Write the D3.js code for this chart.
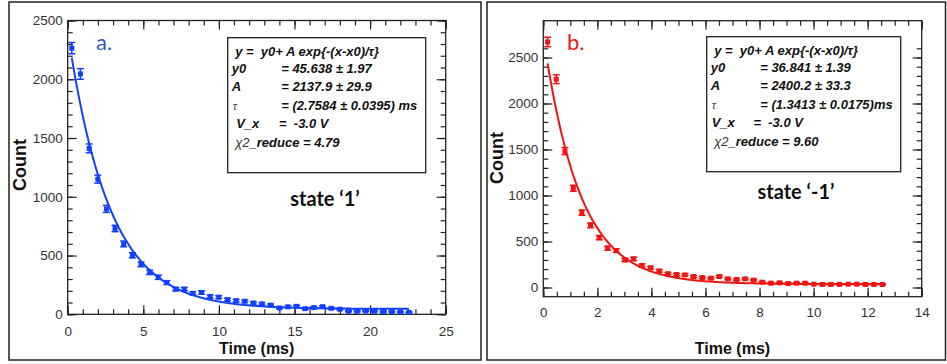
<!DOCTYPE html>
<html>
<head>
<meta charset="utf-8">
<script src="https://cdn.jsdelivr.net/npm/d3@7"></script>
<style>
  html, body { margin: 0; padding: 0; background: #fff; }
  svg { display: block; }
  text { white-space: pre; }
</style>
</head>
<body>
<svg id="chart" width="947" height="364"></svg>
<script>
// ---- state '1' decay (panel a) ----
const timeA = [0.27, 0.84, 1.42, 1.99, 2.56, 3.13, 3.70, 4.28, 4.85, 5.42,
               5.99, 6.56, 7.14, 7.71, 8.28, 8.85, 9.42, 9.99, 10.57, 11.14,
               11.71, 12.28, 12.85, 13.42, 14.00, 14.57, 15.14, 15.71, 16.28, 16.85,
               17.43, 18.00, 18.57, 19.14, 19.71, 20.28, 20.86, 21.43, 22.00, 22.57];
const countA = [2265, 2045, 1412, 1150, 897, 730, 599, 502, 425, 357,
                315, 270, 214, 214, 178, 186, 152, 146, 125, 116,
                111, 96, 89, 78, 54, 64, 68, 48, 57, 65,
                51, 43, 26, 26, 28, 26, 23, 23, 20, 17];
const fitA = { y0: 45.638, A: 2137.9, tau: 2.7584 };
const xTicksA = [0, 5, 10, 15, 20, 25];
const yTicksA = [0, 500, 1000, 1500, 2000, 2500];
const fitTextA = ["45.638 \u00b1 1.97", "2137.9 \u00b1 29.9", "(2.7584 \u00b1 0.0395) ms", "-3.0 V", "4.79"];

// ---- state '-1' decay (panel b) ----
const timeB = [0.16, 0.48, 0.80, 1.11, 1.43, 1.75, 2.07, 2.38, 2.70, 3.02,
               3.34, 3.65, 3.97, 4.29, 4.61, 4.93, 5.24, 5.56, 5.88, 6.20,
               6.51, 6.83, 7.15, 7.47, 7.78, 8.10, 8.42, 8.74, 9.06, 9.37,
               9.69, 10.01, 10.33, 10.64, 10.96, 11.28, 11.60, 11.92, 12.23, 12.55];
const countB = [2669, 2264, 1483, 1078, 814, 676, 542, 427, 401, 300,
                311, 239, 214, 180, 150, 141, 137, 119, 108, 101,
                119, 94, 87, 94, 80, 58, 47, 51, 43, 47,
                47, 36, 33, 33, 33, 36, 36, 33, 33, 33];
const fitB = { y0: 36.841, A: 2400.2, tau: 1.3413 };
const xTicksB = [0, 2, 4, 6, 8, 10, 12, 14];
const yTicksB = [0, 500, 1000, 1500, 2000, 2500];
const fitTextB = ["36.841 \u00b1 1.39", "2400.2 \u00b1 33.3", "(1.3413 \u00b1 0.0175)ms", "-3.0 V", "9.60"];

const svg = d3.select("#chart");

// Panel frames
svg.append("rect").attr("x", 9).attr("y", 2).attr("width", 472).attr("height", 358)
  .attr("fill", "none").attr("stroke", "#222").attr("stroke-width", 1.5);
svg.append("rect").attr("x", 487).attr("y", 2).attr("width", 458.5).attr("height", 358)
  .attr("fill", "none").attr("stroke", "#222").attr("stroke-width", 1.5);

function drawPanel(cfg) {
  const g = svg.append("g");
  const x = d3.scaleLinear().domain(cfg.xDomain).range([cfg.left, cfg.right]);
  const y = d3.scaleLinear().domain(cfg.yDomain).range([cfg.bottom, cfg.top]);

  const styleAxis = sel => {
    sel.select(".domain").remove();
    sel.selectAll("line").attr("stroke", "#222").attr("stroke-width", 1.2);
    sel.selectAll("text").attr("fill", "#333")
      .style("font-family", "'Liberation Sans', Arial, sans-serif").style("font-size", "13.5px");
  };

  const xMinor = d3.range(cfg.xDomain[0], cfg.xDomain[1] + 1e-9, cfg.xMinorStep);
  const yMinor = d3.range(0, cfg.yTicks[cfg.yTicks.length - 1] + cfg.yMinorStep + 1e-9, cfg.yMinorStep)
    .filter(v => v >= cfg.yDomain[0] && v <= cfg.yDomain[1]);

  // bottom
  g.append("g").attr("transform", `translate(0,${cfg.bottom})`)
    .call(d3.axisBottom(x).tickValues(xMinor).tickSize(-5).tickFormat("")).call(styleAxis);
  g.append("g").attr("transform", `translate(0,${cfg.bottom})`)
    .call(d3.axisBottom(x).tickValues(cfg.xTicks).tickSize(-9).tickPadding(cfg.xPad).tickFormat(d3.format("d")))
    .call(styleAxis);
  // top
  g.append("g").attr("transform", `translate(0,${cfg.top})`)
    .call(d3.axisTop(x).tickValues(xMinor).tickSize(-5).tickFormat("")).call(styleAxis);
  g.append("g").attr("transform", `translate(0,${cfg.top})`)
    .call(d3.axisTop(x).tickValues(cfg.xTicks).tickSize(-9).tickFormat("")).call(styleAxis);
  // left
  g.append("g").attr("transform", `translate(${cfg.left},0)`)
    .call(d3.axisLeft(y).tickValues(yMinor).tickSize(-5).tickFormat("")).call(styleAxis);
  g.append("g").attr("transform", `translate(${cfg.left},0)`)
    .call(d3.axisLeft(y).tickValues(cfg.yTicks).tickSize(-9).tickPadding(5).tickFormat(d3.format("d")))
    .call(styleAxis);
  // right
  g.append("g").attr("transform", `translate(${cfg.right},0)`)
    .call(d3.axisRight(y).tickValues(yMinor).tickSize(-5).tickFormat("")).call(styleAxis);
  g.append("g").attr("transform", `translate(${cfg.right},0)`)
    .call(d3.axisRight(y).tickValues(cfg.yTicks).tickSize(-9).tickFormat("")).call(styleAxis);

  // plot frame
  g.append("rect").attr("x", cfg.left).attr("y", cfg.top)
    .attr("width", cfg.right - cfg.left).attr("height", cfg.bottom - cfg.top)
    .attr("fill", "none").attr("stroke", "#222").attr("stroke-width", 1.3);

  // fitted exponential y = y0 + A exp(-(x-x0)/tau)
  const x0 = cfg.time[0];
  const xEnd = cfg.time[cfg.time.length - 1];
  const curveX = d3.range(0, 301).map(i => x0 + (xEnd - x0) * i / 300);
  const line = d3.line()
    .x(d => x(d))
    .y(d => y(cfg.fit.y0 + cfg.fit.A * Math.exp(-(d - x0) / cfg.fit.tau)));
  g.append("path").datum(curveX).attr("d", line)
    .attr("fill", "none").attr("stroke", cfg.color).attr("stroke-width", 2);

  // data points with counting error bars
  const pts = cfg.time.map((t, i) => ({ t, c: cfg.count[i], e: Math.sqrt(cfg.count[i]) }));
  const pg = g.append("g").attr("fill", cfg.color).attr("stroke", cfg.color);
  const node = pg.selectAll("g").data(pts).join("g");
  node.append("line")
    .attr("x1", d => x(d.t)).attr("x2", d => x(d.t))
    .attr("y1", d => y(d.c - d.e)).attr("y2", d => y(d.c + d.e)).attr("stroke-width", 1.5);
  node.append("line")
    .attr("x1", d => x(d.t) - 3.5).attr("x2", d => x(d.t) + 3.5)
    .attr("y1", d => y(d.c + d.e)).attr("y2", d => y(d.c + d.e)).attr("stroke-width", 1.5);
  node.append("line")
    .attr("x1", d => x(d.t) - 3.5).attr("x2", d => x(d.t) + 3.5)
    .attr("y1", d => y(d.c - d.e)).attr("y2", d => y(d.c - d.e)).attr("stroke-width", 1.5);
  node.append("rect")
    .attr("x", d => x(d.t) - 2.5).attr("y", d => y(d.c) - 2.5)
    .attr("width", 5).attr("height", 5).attr("stroke", "none");

  // axis titles
  g.append("text").attr("x", (cfg.left + cfg.right) / 2).attr("y", cfg.xTitleY)
    .attr("text-anchor", "middle").attr("fill", "#111")
    .style("font-family", "'Liberation Sans', Arial, sans-serif").style("font-weight", "bold").style("font-size", "16px")
    .text("Time (ms)");
  g.append("text").attr("transform", `translate(${cfg.yTitleX},${cfg.yTitleY}) rotate(-90)`)
    .attr("text-anchor", "middle").attr("fill", "#111")
    .style("font-family", "'Liberation Sans', Arial, sans-serif").style("font-weight", "bold").style("font-size", "18px")
    .text("Count");

  // panel letter
  g.append("text").attr("x", cfg.letterX).attr("y", cfg.letterY)
    .attr("fill", cfg.letterColor)
    .style("font-family", "Lato, 'Open Sans', sans-serif").style("font-size", "22px")
    .text(cfg.letter);

  // state label
  g.append("text").attr("x", cfg.stateX).attr("y", cfg.stateY).attr("text-anchor", "middle")
    .attr("fill", "#111")
    .style("font-family", "Lato, 'Open Sans', sans-serif").style("font-weight", "bold").style("font-size", "20px")
    .text(cfg.state);

  // fit result box
  const bx = cfg.box[0], by = cfg.box[1];
  g.append("rect").attr("x", bx).attr("y", by).attr("width", cfg.box[2]).attr("height", cfg.box[3])
    .attr("fill", "#fff").attr("stroke", "#222").attr("stroke-width", 1.3);
  const tb = g.append("g").attr("fill", "#111")
    .style("font-family", "'Liberation Sans', Arial, sans-serif").style("font-size", "13px")
    .style("font-style", "italic").style("font-weight", "bold");
  const rows = [18.5, 35.5, 53, 72.5, 90, 109];
  const eqX = bx + 53.5;
  tb.append("text").attr("x", bx + 7.5).attr("y", by + rows[0]).text("y =  y0+ A exp{-(x-x0)/\u03c4}");
  tb.append("text").attr("x", bx + 4).attr("y", by + rows[1]).text("y0");
  tb.append("text").attr("x", eqX).attr("y", by + rows[1]).text("= " + cfg.fitText[0]);
  tb.append("text").attr("x", bx + 4).attr("y", by + rows[2]).text("A");
  tb.append("text").attr("x", eqX).attr("y", by + rows[2]).text("= " + cfg.fitText[1]);
  tb.append("text").attr("x", bx + 5).attr("y", by + rows[3]).style("font-weight", "normal")
    .style("font-size", "11px").attr("fill", "#444").text("\u03c4");
  tb.append("text").attr("x", eqX).attr("y", by + rows[3]).text("= " + cfg.fitText[2]);
  tb.append("text").attr("x", bx + cfg.vxX).attr("y", by + rows[4]).text("V_x");
  tb.append("text").attr("x", bx + cfg.vxEq).attr("y", by + rows[4]).text("=  " + cfg.fitText[3]);
  const chi = tb.append("text").attr("x", bx + 7.5).attr("y", by + rows[5]);
  chi.append("tspan").style("font-weight", "normal").attr("fill", "#333").text("\u03c72");
  chi.append("tspan").text("_reduce = " + cfg.fitText[4]);
}

drawPanel({
  time: timeA, count: countA, fit: fitA, fitText: fitTextA,
  xDomain: [0, 25], yDomain: [0, 2500], xTicks: xTicksA, yTicks: yTicksA,
  xMinorStep: 1, yMinorStep: 100,
  left: 67.7, right: 445.7, top: 20.5, bottom: 314.3, xPad: 12,
  color: "#1340ff", xTitleY: 354, yTitleX: 26, yTitleY: 165,
  letter: "a.", letterColor: "#2f5cc0", letterX: 96, letterY: 50,
  state: "state \u20181\u2019", stateX: 325, stateY: 206,
  box: [227.7, 37.7, 198, 135], vxX: 8.5, vxEq: 51.3
});

drawPanel({
  time: timeB, count: countB, fit: fitB, fitText: fitTextB,
  xDomain: [0, 14], yDomain: [-100, 2900], xTicks: xTicksB, yTicks: yTicksB,
  xMinorStep: 0.5, yMinorStep: 100,
  left: 543.3, right: 921.7, top: 20.7, bottom: 296.7, xPad: 11,
  color: "#f01414", xTitleY: 354, yTitleX: 503, yTitleY: 158,
  letter: "b.", letterColor: "#f01414", letterX: 567, letterY: 50,
  state: "state \u2018-1\u2019", stateX: 796, stateY: 199,
  box: [706.7, 36.7, 194, 135], vxX: 5, vxEq: 46.7
});
</script>
</body>
</html>
